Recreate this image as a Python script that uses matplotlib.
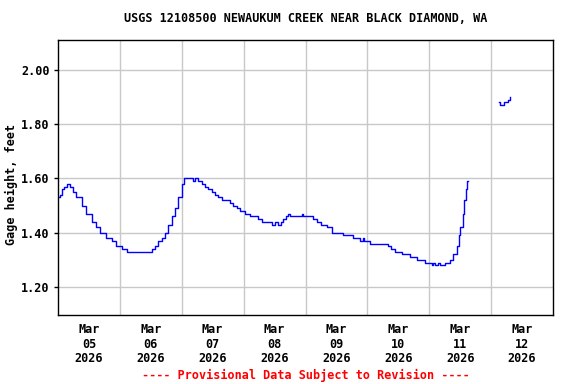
import numpy as np
import matplotlib
matplotlib.use('Agg')
import matplotlib.pyplot as plt

# hours since 2026-03-05 00:00 and gage height (ft)
horas = [0.1, 0.8, 1.6, 2.3, 3.6, 4.7, 5.8, 7.0, 9.2, 10.9, 13.1, 14.7, 16.3,
         18.6, 20.8, 22.5, 24.7, 26.6, 35.0, 36.4, 37.6, 38.8, 40.2, 41.5,
         42.8, 44.1, 45.4, 46.6, 48.0, 49.0, 51.8, 52.5, 53.1, 54.3, 55.7,
         57.0, 58.3, 59.7, 60.9, 62.0, 63.5, 65.4, 66.7, 68.0, 69.4, 70.6,
         72.5, 74.4, 76.4, 77.5, 79.0, 82.2, 83.0, 84.1, 85.4, 86.5, 87.3,
         88.4, 89.3, 89.9, 93.8, 94.6, 95.0, 97.0, 98.9, 100.3, 102.2, 104.2,
         106.1, 108.1, 110.6, 114.5, 117.1, 118.2, 118.6, 121.0, 125.5, 128.1,
         129.0, 130.7, 133.3, 136.5, 139.1, 142.3, 144.9, 145.4, 146.2, 147.3,
         148.1, 150.0, 152.0, 153.3, 154.6, 155.6, 156.1, 156.9, 157.5, 158.2,
         158.8,
         159.0,
         171.1, 171.4, 172.6, 172.9, 173.7, 174.6, 175.2]
altura = [1.53, 1.54, 1.56, 1.57, 1.58, 1.57, 1.55, 1.53, 1.50, 1.47, 1.44,
          1.42, 1.40, 1.38, 1.37, 1.35, 1.34, 1.33, 1.33, 1.34, 1.35, 1.37,
          1.38, 1.40, 1.43, 1.46, 1.49, 1.53, 1.58, 1.60, 1.60, 1.59, 1.60,
          1.59, 1.58, 1.57, 1.56, 1.55, 1.54, 1.53, 1.52, 1.52, 1.51, 1.50,
          1.49, 1.48, 1.47, 1.46, 1.46, 1.45, 1.44, 1.44, 1.43, 1.44, 1.43,
          1.44, 1.45, 1.46, 1.47, 1.46, 1.46, 1.47, 1.46, 1.46, 1.45, 1.44,
          1.43, 1.42, 1.40, 1.40, 1.39, 1.38, 1.37, 1.38, 1.37, 1.36, 1.36,
          1.35, 1.34, 1.33, 1.32, 1.31, 1.30, 1.29, 1.28, 1.29, 1.28, 1.29,
          1.28, 1.29, 1.30, 1.32, 1.35, 1.39, 1.42, 1.47, 1.52, 1.56, 1.59,
          np.nan,
          1.88, 1.87, 1.87, 1.88, 1.88, 1.89, 1.90]

dias = ['05', '06', '07', '08', '09', '10', '11', '12']
y_ticks = [1.20, 1.40, 1.60, 1.80, 2.00]

fonte = 'DejaVu Sans Mono'
plt.rcParams['font.family'] = fonte
plt.rcParams['font.weight'] = 'bold'

fig = plt.figure(figsize=(5.76, 3.84), dpi=100)
fig.subplots_adjust(left=58/576, right=553/576, top=1-40/384, bottom=1-315/384)
ax = fig.add_subplot(111)

x = np.array(horas) / 24.0
ax.plot(x, altura, color='#0000ff', lw=1.0, drawstyle='steps-post')

ax.set_xlim(0, 8)
ax.set_ylim(1.097, 2.11)

# grade nas meias-noites, rotulos ao meio-dia
ax.set_xticks(np.arange(1, 8))
ax.set_xticklabels([])
ax.set_xticks(np.arange(len(dias)) + 0.5, minor=True)
ax.set_xticklabels(['Mar\n{}\n2026'.format(d) for d in dias], minor=True,
                   fontsize=8.5, fontweight='bold', linespacing=1.15)
ax.tick_params(axis='x', which='both', length=0, pad=6)

ax.set_yticks(y_ticks)
ax.set_yticklabels(['{:.2f}'.format(v) for v in y_ticks], fontsize=8.5,
                   fontweight='bold')
ax.tick_params(axis='y', length=3, width=1, pad=3)

ax.grid(True, which='major', color='#c8c8c8', lw=1)
ax.set_axisbelow(True)
for s in ax.spines.values():
    s.set_linewidth(1)
    s.set_color('black')

ax.set_ylabel('Gage height, feet', fontsize=8.5, fontweight='bold')
ax.yaxis.set_label_coords((18 - 58) / 495, (315 - 184) / 275)
fig.text(306/576, 1-19/384, 'USGS 12108500 NEWAUKUM CREEK NEAR BLACK DIAMOND, WA',
         ha='center', va='center', fontsize=8.5, fontweight='bold')
fig.text(306/576, 1-375/384, '---- Provisional Data Subject to Revision ----',
         ha='center', va='center', fontsize=8.5, fontweight='bold', color='red')

plt.savefig('out.png', dpi=100)
